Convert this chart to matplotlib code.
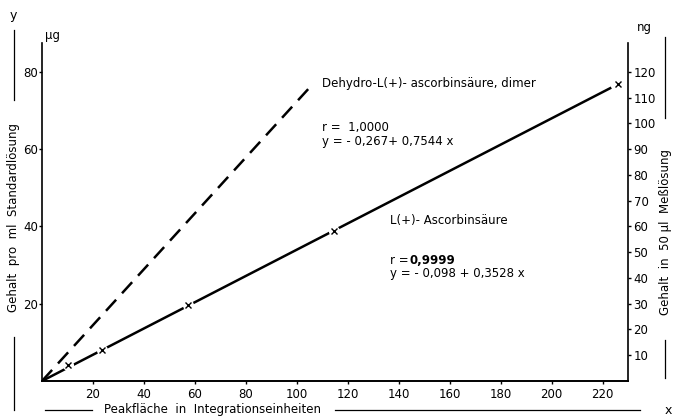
import matplotlib
matplotlib.use("Agg")
import matplotlib.pyplot as plt
from matplotlib.lines import Line2D

# values (x: peak area, y: ug per ml)
asc_line_x = [0, 223]
asc_line_y = [0, 75.8]
asc_pts_x = [10.4, 23.4, 57.3, 114.5, 226]
asc_pts_y = [4.1, 8.0, 19.7, 38.9, 76.8]
dehydro_x = [0, 106.6]
dehydro_y = [0, 77.1]

x_ticks = [20, 40, 60, 80, 100, 120, 140, 160, 180, 200, 220]
y_ticks = [20, 40, 60, 80]
ng_ticks = [10, 20, 30, 40, 50, 60, 70, 80, 90, 100, 110, 120]

W, H = 683, 417
def px(x, y):
    return x / W, 1 - y / H

plt.rcParams['font.family'] = ['DejaVu Sans']
fig = plt.figure(figsize=(W / 100, H / 100), dpi=100)
ax = fig.add_axes([42 / W, 1 - 381 / H, (628 - 42) / W, (381 - 43) / H])
ax.set_xlim(0, 230)
ax.set_ylim(0, 87.5)

ax.plot(dehydro_x, dehydro_y, color="black", lw=1.8, ls=(0, (6, 3.5)), solid_capstyle="butt")
ax.plot(asc_line_x, asc_line_y, color="black", lw=1.8)
ax.plot(asc_pts_x, asc_pts_y, ls="none", marker="o", ms=8, mfc="white", mec="none", zorder=3)
ax.plot(asc_pts_x, asc_pts_y, ls="none", marker="x", ms=4, mew=1.0, color="black", zorder=4)

for s in ["top", "right"]:
    ax.spines[s].set_visible(False)
ax.spines["left"].set_linewidth(1.2)
ax.spines["bottom"].set_linewidth(1.4)
ax.set_xticks(x_ticks)
ax.set_yticks(y_ticks)
ax.tick_params(labelsize=8.5, length=2, width=1, pad=1)
ax.tick_params(axis="x", pad=3)

ax2 = ax.twinx()
ax2.set_ylim(0, 87.5 * 1.5)
for s in ["top", "left", "bottom"]:
    ax2.spines[s].set_visible(False)
ax2.spines["right"].set_linewidth(1.2)
ax2.set_yticks(ng_ticks)
ax2.tick_params(labelsize=8.5, length=2, width=1, pad=2)

# annotations in the plot
fs = 8.5
ax.text(*px(322, 83), "Dehydro-L(+)- ascorbinsäure, dimer", transform=fig.transFigure,
        fontsize=fs, va="center")
ax.text(*px(322, 128), "r =  1,0000", transform=fig.transFigure, fontsize=fs, va="center")
ax.text(*px(322, 141), "y = - 0,267+ 0,7544 x", transform=fig.transFigure, fontsize=fs, va="center")
ax.text(*px(390, 220), "L(+)- Ascorbinsäure", transform=fig.transFigure, fontsize=fs, va="center")
ax.text(*px(390, 261), "r =", transform=fig.transFigure, fontsize=fs, va="center")
ax.text(*px(410, 261), "0,9999", transform=fig.transFigure, fontsize=fs, va="center",
        fontweight="bold")
ax.text(*px(390, 274), "y = - 0,098 + 0,3528 x", transform=fig.transFigure, fontsize=fs, va="center")

# axis captions with the rule lines around them
fig.text(*px(13, 15), "y", fontsize=9, ha="center", va="center")
fig.text(*px(45, 35), "µg", fontsize=8.5, ha="left", va="center")
fig.text(*px(637, 28), "ng", fontsize=8.5, ha="left", va="center")
fig.text(*px(668, 410), "x", fontsize=9, ha="center", va="center")

fig.text(*px(14, 217), "Gehalt  pro  ml  Standardlösung", rotation=90, fontsize=8.5,
         ha="center", va="center")
fig.text(*px(665, 232), "Gehalt  in  50 µl  Meßlösung", rotation=90, fontsize=8.5,
         ha="center", va="center")
fig.text(*px(212, 410), "Peakfläche  in  Integrationseinheiten", fontsize=8.5,
         ha="center", va="center")

rules = [
    [(14, 30), (14, 100)],
    [(14, 337), (14, 410)],
    [(665, 37), (665, 118)],
    [(665, 340), (665, 378)],
    [(45, 410), (92, 410)],
    [(335, 410), (640, 410)],
]
for (a, b) in rules:
    p, q = px(*a), px(*b)
    fig.add_artist(Line2D([p[0], q[0]], [p[1], q[1]], transform=fig.transFigure,
                          color="black", lw=0.9))

fig.savefig("out.png", dpi=100)
